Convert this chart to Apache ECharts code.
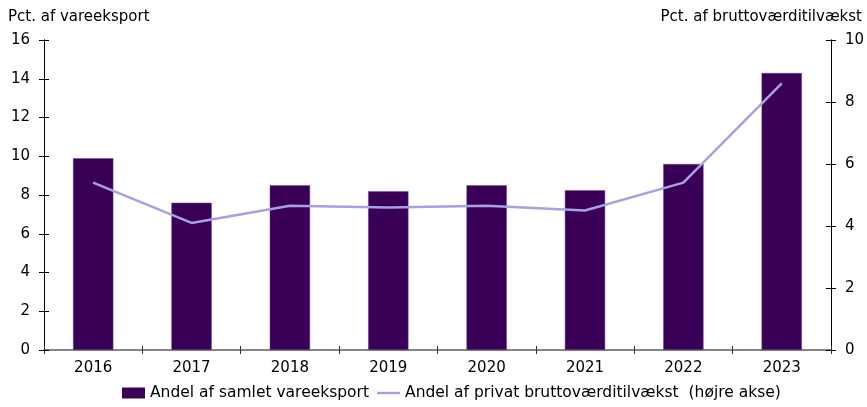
<!DOCTYPE html>
<html>
<head>
<meta charset="utf-8">
<script src="https://cdn.jsdelivr.net/npm/echarts@6/dist/echarts.min.js"></script>
<style>
html, body { margin: 0; padding: 0; background: #fff; }
#chart { width: 867px; height: 407px; }
</style>
</head>
<body>
<div id="chart"></div>
<script>
var years = ['2016', '2017', '2018', '2019', '2020', '2021', '2022', '2023'];
var vareeksport = [9.9, 7.6, 8.5, 8.2, 8.5, 8.25, 9.6, 14.3];
var bruttovaerdi = [5.4, 4.1, 4.65, 4.6, 4.65, 4.5, 5.4, 8.6];

var font = '"DejaVu Sans", sans-serif';
var myChart = echarts.init(document.getElementById('chart'));

// axes are drawn twice so the ticks cross the axis lines (outside + inside)
function leftAxis(inside) {
    return {
        type: 'value', min: 0, max: 16, interval: 2, position: 'left',
        axisLine: { show: true, lineStyle: { color: '#000' } },
        axisTick: { show: true, length: 5, inside: inside, lineStyle: { color: '#000' } },
        axisLabel: { show: !inside, fontFamily: font, fontSize: 15, color: '#000', margin: 14 },
        splitLine: { show: false }
    };
}
function rightAxis(inside) {
    return {
        type: 'value', min: 0, max: 10, interval: 2, position: 'right',
        axisLine: { show: true, lineStyle: { color: '#000' } },
        axisTick: { show: true, length: 5, inside: inside, lineStyle: { color: '#000' } },
        axisLabel: { show: !inside, fontFamily: font, fontSize: 15, color: '#000', margin: 14 },
        splitLine: { show: false }
    };
}
function bottomAxis(inside) {
    return {
        type: 'category',
        data: years,
        position: 'bottom',
        axisLine: { lineStyle: { color: '#7f7f7f', width: 1.5 } },
        axisTick: { show: true, length: 4, inside: inside, lineStyle: { color: '#333' } },
        axisLabel: { show: !inside, fontFamily: font, fontSize: 15, color: '#000', margin: 11 }
    };
}

myChart.setOption({
    animation: false,
    grid: { left: 44, right: 35, top: 40, bottom: 57 },
    graphic: [
        { type: 'text', left: 8, top: 10, style: { text: 'Pct. af vareeksport', font: '15px ' + font, fill: '#000' } },
        { type: 'text', right: 5, top: 10, style: { text: 'Pct. af bruttoværditilvækst', font: '15px ' + font, fill: '#000' } }
    ],
    legend: {
        bottom: 1,
        left: 117,
        itemGap: 8,
        itemWidth: 23,
        itemHeight: 11,
        textStyle: { fontFamily: font, fontSize: 15.5, color: '#000' },
        data: [
            { name: 'Andel af samlet vareeksport', icon: 'rect', itemStyle: { borderWidth: 0 } },
            { name: 'Andel af privat bruttoværditilvækst  (højre akse)',
              icon: 'path://M0,0 M0,4.3 L23,4.3 L23,6.7 L0,6.7 Z M23,11',
              itemStyle: { color: '#a6a1e0', borderWidth: 0 } }
        ]
    },
    xAxis: [bottomAxis(false), bottomAxis(true)],
    yAxis: [leftAxis(false), rightAxis(false), leftAxis(true), rightAxis(true)],
    series: [{
        name: 'Andel af samlet vareeksport',
        type: 'bar',
        data: vareeksport,
        barWidth: '41%',
        itemStyle: { color: '#3a0057', borderColor: '#6a4a8a', borderWidth: 0.5 }
    }, {
        name: 'Andel af privat bruttoværditilvækst  (højre akse)',
        type: 'line',
        yAxisIndex: 1,
        data: bruttovaerdi,
        symbol: 'none',
        lineStyle: { color: '#a6a1e0', width: 2.5 },
        itemStyle: { color: '#a6a1e0' }
    }]
});

window.addEventListener('resize', function () {
    myChart.resize();
});
</script>
</body>
</html>
